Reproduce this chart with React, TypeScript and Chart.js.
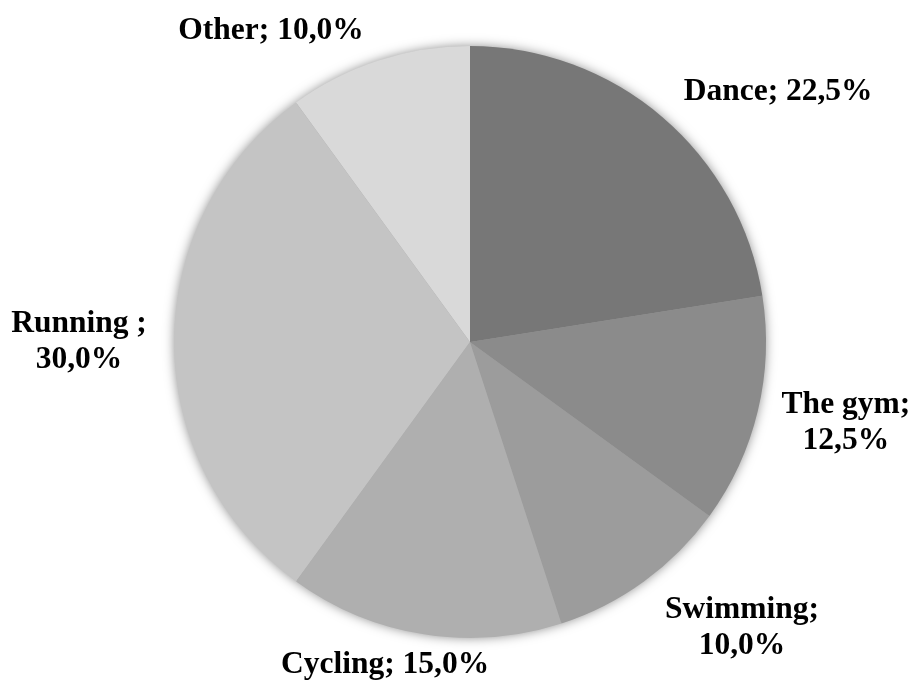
import React, { useEffect, useRef } from "react";
import { Chart, registerables } from "chart.js";

Chart.register(...registerables);

const categories = ["Dance", "The gym", "Swimming", "Cycling", "Running", "Other"];
const shares = [22.5, 12.5, 10.0, 15.0, 30.0, 10.0];
const labelLines = [
  ["Dance; 22,5%"],
  ["The gym;", "12,5%"],
  ["Swimming;", "10,0%"],
  ["Cycling; 15,0%"],
  ["Running ;", "30,0%"],
  ["Other; 10,0%"],
];

const sliceColors = ["#777777", "#8b8b8b", "#9c9c9c", "#afafaf", "#c4c4c4", "#d9d9d9"];
// label centre offsets relative to pie centre, in units of the radius
const labelOffsets = [
  [1.041, -0.85],
  [1.27, 0.27],
  [0.919, 0.963],
  [-0.287, 1.088],
  [-1.321, -0.003],
  [-0.672, -1.054],
];

const shadowPlugin = {
  id: "pieShadow",
  beforeDatasetsDraw(chart: any) {
    const meta = chart.getDatasetMeta(0);
    const arc = meta.data[0];
    if (!arc) return;
    const ctx = chart.ctx;
    ctx.save();
    ctx.shadowColor = "rgba(0,0,0,0.5)";
    ctx.shadowBlur = 12;
    ctx.shadowOffsetX = 0;
    ctx.shadowOffsetY = 0;
    ctx.fillStyle = "#999999";
    ctx.beginPath();
    ctx.arc(arc.x, arc.y, arc.outerRadius - 1, 0, Math.PI * 2);
    ctx.fill();
    ctx.restore();
  },
};

const labelPlugin = {
  id: "pieLabels",
  afterDatasetsDraw(chart: any) {
    const meta = chart.getDatasetMeta(0);
    const ctx = chart.ctx;
    ctx.save();
    ctx.fillStyle = "#000000";
    ctx.font = "bold 31.5px 'Liberation Serif', 'DejaVu Serif', serif";
    ctx.textAlign = "center";
    ctx.textBaseline = "middle";
    const lineH = 36;
    meta.data.forEach((arc: any, i: number) => {
      const r = arc.outerRadius;
      const cx = arc.x + labelOffsets[i][0] * r;
      const cy = arc.y + labelOffsets[i][1] * r;
      const lines = labelLines[i];
      const startY = cy - ((lines.length - 1) * lineH) / 2;
      lines.forEach((t, j) => ctx.fillText(t, cx, startY + j * lineH + 1));
    });
    ctx.restore();
  },
};

export default function App() {
  const ref = useRef<HTMLCanvasElement | null>(null);
  useEffect(() => {
    if (!ref.current) return;
    const chart = new Chart(ref.current, {
      type: "pie",
      data: {
        labels: categories,
        datasets: [
          {
            data: shares,
            backgroundColor: sliceColors,
            borderWidth: 0,
          },
        ],
      },
      options: {
        responsive: false,
        animation: false,
        layout: { padding: { top: 46, bottom: 42, left: 174, right: 149 } },
        plugins: {
          legend: { display: false },
          tooltip: { enabled: false },
        },
      },
      plugins: [shadowPlugin, labelPlugin],
    });
    return () => chart.destroy();
  }, []);
  return (
    <div style={{ position: "absolute", left: 0, top: 0, width: 915, height: 680, background: "#ffffff" }}>
      <canvas ref={ref} width={915} height={680} />
    </div>
  );
}
